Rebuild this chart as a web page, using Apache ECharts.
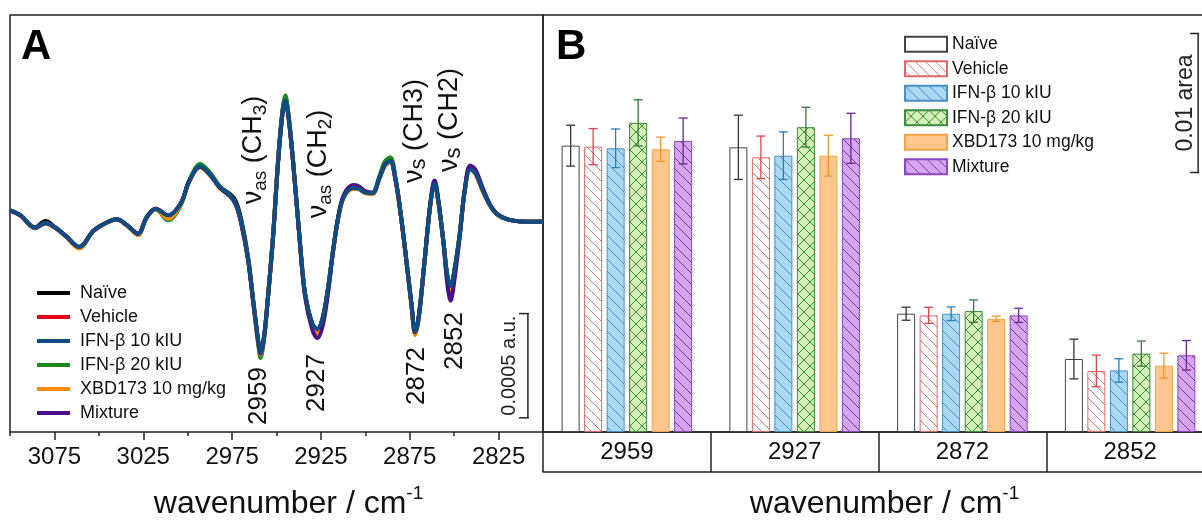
<!DOCTYPE html>
<html><head><meta charset="utf-8">
<script src="https://cdn.jsdelivr.net/npm/echarts@6/dist/echarts.min.js"></script>
<style>html,body{margin:0;padding:0;background:#fff}#c{width:1202px;height:520px}</style>
</head><body><div id="c"></div>
<script>
// ---------- DATA ----------
const seriesNames = ['Naïve','Vehicle','IFN-β 10 kIU','IFN-β 20 kIU','XBD173 10 mg/kg','Mixture'];

// Panel A: second-derivative spectra (values in 1e-4 a.u.)
const wavenumbers = [3100,3094,3086,3080,3075,3069,3061,3053,3045,3040,
 3034,3028,3023,3018,3011,3004,2999,2993,2987,2982,
 2976,2973,2970,2966,2963,2960,2959,2957,2955,2952,
 2949,2946.5,2945,2943.5,2941,2937,2934,2930,2927,2924,
 2921,2918,2915,2912,2907,2904,2900,2896,2892,2889,
 2886,2883,2880,2877,2874,2872,2870,2867,2864,2862,
 2861,2859,2856,2854,2852,2850,2847,2844,2841,2838,
 2834,2830,2826,2820,2812,2806,2800];
const specNaive = [0.53,0.29,-0.28,0.02,-0.25,-0.67,-1.22,-0.45,-0.03,0.10,
 -0.19,-0.58,0.21,0.61,0.29,0.85,1.96,2.64,2.22,1.68,
 1.30,0.98,0.15,-1.70,-3.85,-5.95,-6.35,-5.55,-3.80,-0.75,
 3.05,5.35,5.85,5.25,3.20,-0.80,-3.45,-4.90,-5.20,-4.65,
 -3.20,-1.30,0.30,1.20,1.60,1.58,1.38,1.35,2.10,2.72,
 2.92,2.00,0.30,-1.80,-4.00,-5.35,-4.65,-2.20,0.40,1.62,
 1.82,1.00,-1.00,-2.55,-3.20,-2.45,-0.70,1.52,2.55,2.32,
 1.50,0.80,0.35,0.10,0.00,-0.02,0.00];
const specVehicle = [0.52,0.28,-0.32,-0.10,-0.28,-0.68,-1.24,-0.46,-0.04,0.09,
 -0.20,-0.61,0.20,0.60,0.27,0.83,1.94,2.63,2.19,1.63,
 1.20,0.83,-0.02,-1.82,-3.92,-5.95,-6.35,-5.55,-3.82,-0.82,
 3.00,5.32,5.85,5.22,3.18,-0.82,-3.45,-4.92,-5.25,-4.68,
 -3.25,-1.32,0.28,1.20,1.62,1.60,1.38,1.34,2.08,2.70,
 2.90,1.98,0.28,-1.82,-4.02,-5.32,-4.62,-2.22,0.40,1.62,
 1.82,1.00,-1.02,-2.58,-3.25,-2.48,-0.72,1.52,2.55,2.32,
 1.50,0.80,0.35,0.10,0.00,-0.02,0.00];
const specIfn10 = [0.53,0.29,-0.30,-0.08,-0.27,-0.67,-1.23,-0.45,-0.03,0.10,
 -0.19,-0.60,0.21,0.61,0.29,0.85,1.96,2.64,2.20,1.64,
 1.22,0.85,0.00,-1.80,-3.90,-5.90,-6.30,-5.50,-3.80,-0.80,
 3.00,5.30,5.80,5.20,3.20,-0.80,-3.40,-4.85,-5.15,-4.60,
 -3.20,-1.30,0.30,1.20,1.60,1.58,1.38,1.35,2.10,2.70,
 2.90,2.00,0.30,-1.80,-4.00,-5.30,-4.60,-2.20,0.40,1.60,
 1.80,1.00,-1.00,-2.50,-3.10,-2.40,-0.70,1.50,2.50,2.30,
 1.50,0.80,0.35,0.10,0.00,-0.02,0.00];
const specIfn20 = [0.53,0.29,-0.30,-0.08,-0.27,-0.67,-1.25,-0.45,-0.03,0.10,
 -0.20,-0.62,0.18,0.58,0.05,0.75,1.98,2.75,2.30,1.70,
 1.25,0.85,0.00,-1.82,-3.95,-6.10,-6.55,-5.65,-3.85,-0.75,
 3.10,5.45,6.05,5.35,3.25,-0.80,-3.42,-4.90,-5.20,-4.65,
 -3.22,-1.30,0.30,1.20,1.62,1.60,1.40,1.38,2.20,2.88,
 3.08,2.10,0.32,-1.80,-4.00,-5.32,-4.62,-2.20,0.40,1.62,
 1.82,1.00,-1.00,-2.55,-3.20,-2.45,-0.70,1.50,2.52,2.30,
 1.50,0.80,0.35,0.10,0.00,-0.02,0.00];
const specXbd = [0.52,0.28,-0.31,-0.09,-0.28,-0.69,-1.30,-0.47,-0.04,0.09,
 -0.21,-0.66,0.20,0.60,0.13,0.80,1.93,2.60,2.17,1.60,
 1.20,0.82,-0.05,-1.85,-3.95,-6.00,-6.40,-5.60,-3.85,-0.85,
 2.95,5.25,5.75,5.15,3.15,-0.85,-3.55,-5.05,-5.45,-4.85,
 -3.35,-1.35,0.25,1.15,1.55,1.55,1.35,1.32,2.05,2.65,
 2.85,1.95,0.25,-1.85,-4.10,-5.45,-4.70,-2.25,0.38,1.60,
 1.80,0.98,-1.05,-2.65,-3.38,-2.55,-0.75,1.48,2.50,2.28,
 1.48,0.80,0.35,0.10,0.00,-0.02,0.00];
const specMixture = [0.52,0.28,-0.30,-0.08,-0.27,-0.67,-1.23,-0.45,-0.03,0.10,
 -0.19,-0.60,0.21,0.61,0.29,0.85,1.96,2.62,2.20,1.62,
 1.20,0.83,-0.02,-1.85,-3.95,-5.95,-6.35,-5.55,-3.85,-0.85,
 2.95,5.25,5.72,5.15,3.15,-0.85,-3.55,-5.15,-5.60,-5.00,
 -3.45,-1.35,0.35,1.30,1.75,1.70,1.45,1.38,2.12,2.72,
 2.90,2.00,0.28,-1.82,-4.02,-5.32,-4.62,-2.20,0.45,1.75,
 1.96,1.10,-1.05,-2.90,-3.80,-2.90,-0.85,1.55,2.68,2.48,
 1.62,0.85,0.38,0.10,0.00,-0.02,0.00];
const majorTicks = [3075,3025,2975,2925,2875,2825];
const minorTicks = [3100,3050,3000,2950,2900,2850,2800];
const peakLabels = ['2959','2927','2872','2852'];

// Panel B: band areas (area units) and errors
const bandCategories = ['2959','2927','2872','2852'];
const areaNaive   = [0.02060,0.02048,0.00851,0.00525];
const areaVehicle = [0.02053,0.01976,0.00839,0.00439];
const areaIfn10   = [0.02041,0.01988,0.00851,0.00443];
const areaIfn20   = [0.02224,0.02193,0.00870,0.00564];
const areaXbd     = [0.02034,0.01988,0.00814,0.00477];
const areaMixture = [0.02094,0.02113,0.00839,0.00552];
const errNaive    = [0.00147,0.00231,0.00047,0.00143];
const errVehicle  = [0.00130,0.00153,0.00058,0.00114];
const errIfn10    = [0.00139,0.00171,0.00049,0.00084];
const errIfn20    = [0.00166,0.00143,0.00080,0.00090];
const errXbd      = [0.00087,0.00147,0.00019,0.00090];
const errMixture  = [0.00165,0.00180,0.00051,0.00106];

// scale bars (data units)
const scaleBarA = 5;      // 0.0005 a.u. in 1e-4 a.u.
const scaleBarB = 0.01;   // 0.01 area

// ---------- STYLE ----------
const FONT = "'Liberation Sans', Arial, sans-serif";
const lineColors = ['#000000','#e3001b','#0f4c81','#1b8a1b','#ff8c00','#4b0f8a'];
const spectra = [specNaive,specVehicle,specIfn10,specIfn20,specXbd,specMixture];
const areas = [areaNaive,areaVehicle,areaIfn10,areaIfn20,areaXbd,areaMixture];
const errs = [errNaive,errVehicle,errIfn10,errIfn20,errXbd,errMixture];

function pattern(bg, lineColor, size, lw, cross) {
  const c = document.createElement('canvas');
  c.width = size; c.height = size;
  const g = c.getContext('2d');
  g.fillStyle = bg; g.fillRect(0,0,size,size);
  if (lineColor) {
    g.strokeStyle = lineColor; g.lineWidth = lw; g.beginPath();
    g.moveTo(-1,-1); g.lineTo(size+1,size+1);
    g.moveTo(-1,size-1); g.lineTo(1,size+1);
    g.moveTo(size-1,-1); g.lineTo(size+1,1);
    if (cross) {
      g.moveTo(size+1,-1); g.lineTo(-1,size+1);
      g.moveTo(1,-1); g.lineTo(-1,1);
      g.moveTo(size+1,size-1); g.lineTo(size-1,size+1);
    }
    g.stroke();
  }
  return {image: c, repeat: 'repeat'};
}
const barFills = [
  pattern('#ffffff', null, 8, 1, false),
  pattern('#ffffff', 'rgba(215,80,80,0.8)', 10, 1, false),
  pattern('#aad9f6', 'rgba(40,100,160,0.7)', 12, 1, false),
  pattern('#d4efb8', 'rgba(40,130,40,0.9)', 12, 1, true),
  pattern('#ffc68d', null, 8, 1, false),
  pattern('#d6a5f0', 'rgba(90,30,130,0.8)', 11, 1, false)
];
const barBorders = ['#444444','#dc6a6a','#4a8fc6','#3c8c3c','#f4a24a','#8a46bf'];
const errColors = ['#333333','#d9484a','#2f7bb8','#2e7d32','#f2952e','#6a2596'];

const BAR_W = 18, BAR_GAP = 0.25;

// ---------- OPTION ----------
const drawOrder = [0,1,3,4,5,2]; // IFN-β 10 kIU drawn on top
const lineSeries = drawOrder.map(i => ({
  name: seriesNames[i], type: 'line', xAxisIndex: 0, yAxisIndex: 0,
  data: wavenumbers.map((w,k) => [w, spectra[i][k]]),
  showSymbol: false, smooth: 0.35, color: lineColors[i],
  lineStyle: {width: 4, color: lineColors[i]}, silent: true, z: 3
}));

const barSeries = seriesNames.map((n,i) => ({
  name: 'B:' + n, type: 'bar', xAxisIndex: 2, yAxisIndex: 1,
  data: areas[i], barWidth: BAR_W, barGap: (BAR_GAP*100) + '%',
  itemStyle: {color: barFills[i], borderColor: barBorders[i], borderWidth: 1},
  silent: true, z: 2
}));

const errSeries = seriesNames.map((n,i) => ({
  name: 'err:' + n, type: 'custom', xAxisIndex: 2, yAxisIndex: 1, silent: true, z: 4,
  data: bandCategories.map((c,k) => [k, areas[i][k], errs[i][k]]),
  renderItem: (params, api) => {
    const k = api.value(0), v = api.value(1), e = api.value(2);
    const off = (i - 2.5) * BAR_W * (1 + BAR_GAP);
    const x = api.coord([k, v])[0] + off;
    const yt = api.coord([k, v + e])[1], yb = api.coord([k, v - e])[1];
    const st = {stroke: errColors[i], lineWidth: 1.3};
    return {type: 'group', children: [
      {type: 'line', shape: {x1: x, y1: yt, x2: x, y2: yb}, style: st},
      {type: 'line', shape: {x1: x-4.5, y1: yt, x2: x+4.5, y2: yt}, style: st},
      {type: 'line', shape: {x1: x-4.5, y1: yb, x2: x+4.5, y2: yb}, style: st}
    ]};
  }
}));

const scaleSeriesA = {
  name: 'scaleA', type: 'custom', xAxisIndex: 0, yAxisIndex: 0, silent: true, z: 5,
  data: [[2808.5, -9.42, -9.42 + scaleBarA]],
  renderItem: (params, api) => {
    const p0 = api.coord([api.value(0), api.value(1)]);
    const p1 = api.coord([api.value(0), api.value(2)]);
    const st = {stroke: '#222', lineWidth: 1.5};
    return {type: 'group', children: [
      {type: 'line', shape: {x1: p0[0], y1: p0[1], x2: p1[0], y2: p1[1]}, style: st},
      {type: 'line', shape: {x1: p0[0]-9, y1: p0[1], x2: p0[0]+1, y2: p0[1]}, style: st},
      {type: 'line', shape: {x1: p1[0]-9, y1: p1[1], x2: p1[0]+1, y2: p1[1]}, style: st},
      {type: 'text', x: p0[0]-18, y: (p0[1]+p1[1])/2, rotation: Math.PI/2,
       style: {text: '0.0005 a.u.', font: "20px " + FONT, fill: '#222', align: 'center', verticalAlign: 'middle'}}
    ]};
  }
};
const scaleSeriesB = {
  name: 'scaleB', type: 'custom', xAxisIndex: 2, yAxisIndex: 1, silent: true, z: 5,
  data: [[3, 0.01867, 0.01867 + scaleBarB]],
  renderItem: (params, api) => {
    const p0 = api.coord([api.value(0), api.value(1)]);
    const p1 = api.coord([api.value(0), api.value(2)]);
    const x = p0[0] + 68;
    const st = {stroke: '#222', lineWidth: 1.5};
    return {type: 'group', children: [
      {type: 'line', shape: {x1: x, y1: p0[1], x2: x, y2: p1[1]}, style: st},
      {type: 'line', shape: {x1: x-8, y1: p0[1], x2: x+1, y2: p0[1]}, style: st},
      {type: 'line', shape: {x1: x-8, y1: p1[1], x2: x+1, y2: p1[1]}, style: st},
      {type: 'text', x: x-12, y: (p0[1]+p1[1])/2, rotation: Math.PI/2,
       style: {text: '0.01 area', font: "23px " + FONT, fill: '#222', align: 'center', verticalAlign: 'middle'}}
    ]};
  }
};

const nameRich = {
  a: {fontSize: 32, lineHeight: 36, color: '#111', fontFamily: FONT, verticalAlign: 'bottom'},
  b: {fontSize: 19, lineHeight: 19, color: '#111', fontFamily: FONT, verticalAlign: 'top'}
};

function rotText(x, y, text, rich, size) {
  return {type: 'text', x: x, y: y, rotation: Math.PI/2, silent: true, z: 10,
    style: {text: text, rich: rich, font: size + 'px ' + FONT, fill: '#111', align: 'center', verticalAlign: 'middle'}};
}
const subRich = {
  m: {fontSize: 27, lineHeight: 27, verticalAlign: 'top', fontFamily: FONT, fill: '#111', color: '#111'},
  s: {fontSize: 19, lineHeight: 19, padding: [13,0,0,0], fontFamily: FONT, color: '#111'},
  t: {fontSize: 22, lineHeight: 22, padding: [8,0,0,0], fontFamily: FONT, color: '#111'}
};

const option = {
  animation: false,
  backgroundColor: '#fff',
  textStyle: {fontFamily: FONT},
  title: [
    {text: 'A', left: 21, top: 26, padding: 0, textStyle: {fontSize: 42, fontWeight: 'bold', color: '#000', fontFamily: FONT}},
    {text: 'B', left: 556, top: 26, padding: 0, textStyle: {fontSize: 42, fontWeight: 'bold', color: '#000', fontFamily: FONT}}
  ],
  legend: [
    {data: seriesNames.slice(), orient: 'vertical', left: 37, top: 284, itemWidth: 33, itemHeight: 4,
     icon: 'rect', itemGap: 6, selectedMode: false, padding: 0,
     textStyle: {fontSize: 18, lineHeight: 18, color: '#111', padding: [0,0,0,5], fontFamily: FONT}},
    {data: seriesNames.map(n => 'B:' + n), orient: 'vertical', left: 904, top: 35, itemWidth: 42, itemHeight: 15,
     icon: 'rect', itemGap: 6, selectedMode: false, padding: 0, formatter: n => n.slice(2),
     textStyle: {fontSize: 17.5, lineHeight: 18.5, color: '#111', fontFamily: FONT}}
  ],
  grid: [
    {left: 10, top: 15, width: 533, height: 417, show: true, borderColor: '#222', borderWidth: 1.5,
     backgroundColor: 'transparent', outerBoundsMode: 'none', containLabel: false},
    {left: 543, top: 15, width: 671, height: 417, show: true, borderColor: '#222', borderWidth: 1.5,
     backgroundColor: 'transparent', outerBoundsMode: 'none', containLabel: false}
  ],
  xAxis: [
    {type: 'value', gridIndex: 0, inverse: true, min: 2800, max: 3100,
     axisLine: {show: false, onZero: false}, splitLine: {show: false},
     axisTick: {show: true, length: 8, customValues: majorTicks, lineStyle: {color: '#222', width: 1.5}},
     axisLabel: {customValues: majorTicks, fontSize: 24, color: '#111', margin: 13, fontFamily: FONT, formatter: v => String(v)},
     name: '{a|wavenumber / cm}{b|-1}', nameLocation: 'middle', nameGap: 52,
     nameTextStyle: {rich: nameRich, padding: [0,0,0,24]}},
    {type: 'value', gridIndex: 0, inverse: true, min: 2800, max: 3100, position: 'bottom',
     axisLine: {show: false, onZero: false}, splitLine: {show: false}, axisLabel: {show: false},
     axisTick: {show: true, length: 4, customValues: minorTicks, lineStyle: {color: '#222', width: 1.5}}},
    {type: 'category', gridIndex: 1, data: bandCategories,
     axisLine: {show: true, onZero: false, lineStyle: {color: '#222', width: 1.5}},
     axisTick: {show: true, length: 40, alignWithLabel: false, lineStyle: {color: '#222', width: 1.5}},
     axisLabel: {fontSize: 24, color: '#111', margin: 8, fontFamily: FONT},
     name: '{a|wavenumber / cm}{b|-1}', nameLocation: 'middle', nameGap: 52,
     nameTextStyle: {rich: nameRich, padding: [0,0,0,12]}},
    {type: 'category', gridIndex: 1, data: bandCategories, position: 'bottom', offset: 40,
     axisLine: {show: true, onZero: false, lineStyle: {color: '#222', width: 1.5}},
     axisTick: {show: false}, axisLabel: {show: false}}
  ],
  yAxis: [
    {type: 'value', gridIndex: 0, min: -10.1, max: 9.9, show: false},
    {type: 'value', gridIndex: 1, min: 0, max: 0.030, show: false}
  ],
  graphic: [
    rotText(259, 396, peakLabels[0], null, 26),
    rotText(316.5, 383, peakLabels[1], null, 26),
    rotText(417, 376, peakLabels[2], null, 26),
    rotText(455, 341, peakLabels[3], null, 26),
    rotText(254, 150, '{m|ν}{s|as}{m| (CH}{s|3}{m|)}', subRich, 27),
    rotText(319, 164, '{m|ν}{s|as}{m| (CH}{s|2}{m|)}', subRich, 27),
    rotText(415, 131, '{m|ν}{t|s}{m| (CH3)}', subRich, 27),
    rotText(450, 120, '{m|ν}{t|s}{m| (CH2)}', subRich, 27)
  ],
  series: [...lineSeries, ...barSeries, ...errSeries, scaleSeriesA, scaleSeriesB]
};

const chart = echarts.init(document.getElementById('c'), null, {renderer: 'canvas'});
chart.setOption(option);
</script>
</body></html>
